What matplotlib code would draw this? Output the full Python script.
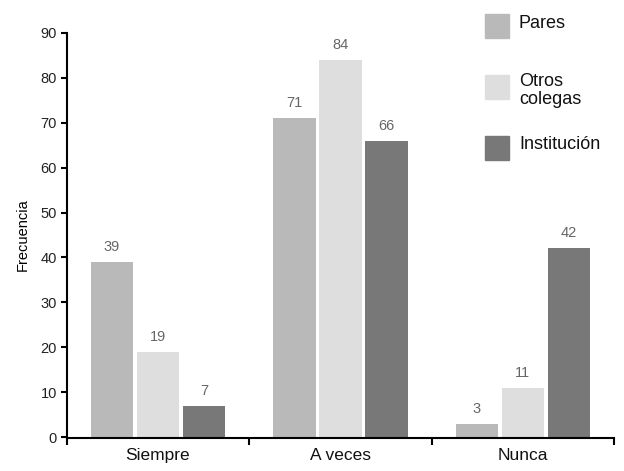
import matplotlib.pyplot as plt
from matplotlib.patches import Rectangle
import numpy as np

plt.rcParams['font.family'] = ['Liberation Sans', 'DejaVu Sans']

# Data
categories = ["Siempre", "A veces", "Nunca"]
series_names = ["Pares", "Otros\ncolegas", "Institución"]
pares = [39, 71, 3]
otros_colegas = [19, 84, 11]
institucion = [7, 66, 42]
y_ticks = [0, 10, 20, 30, 40, 50, 60, 70, 80, 90]

colors = ["#b9b9b9", "#dedede", "#787878"]
values = [pares, otros_colegas, institucion]

fig = plt.figure(figsize=(6.24, 4.71), dpi=100)
ax = fig.add_axes([0.107, 0.072, 0.877, 0.858])

x = np.arange(len(categories))
width = 0.232
step = 0.252
for i, (vals, col) in enumerate(zip(values, colors)):
    pos = x + (i - 1) * step
    ax.bar(pos, vals, width=width, color=col, edgecolor="none", zorder=2)
    for px, v in zip(pos, vals):
        ax.text(px, v + 1.8, str(v), ha="center", va="bottom",
                fontsize=10.5, color="#666666")

ax.set_xlim(-0.5, 2.5)
ax.set_ylim(0, 90)
ax.set_yticks(y_ticks)
ax.tick_params(axis="y", labelsize=10.5, length=4, width=1.5, direction="out",
               pad=3, labelcolor="#222222")

# category labels centred, ticks on group boundaries
ax.set_xticks([-0.5, 0.5, 1.5, 2.5])
ax.set_xticklabels([])
ax.set_xticks(x, minor=True)
ax.set_xticklabels(categories, minor=True)
ax.tick_params(axis="x", which="major", length=5, width=1.5, direction="out")
ax.tick_params(axis="x", which="minor", length=0, pad=7, labelsize=12.5,
               labelcolor="#111111")

for s in ["top", "right"]:
    ax.spines[s].set_visible(False)
for s in ["left", "bottom"]:
    ax.spines[s].set_linewidth(1.5)
ax.spines["bottom"].set_position(("outward", 1))

ax.set_ylabel("Frecuencia", family=["Liberation Sans Narrow", "Liberation Sans"],
              fontsize=10.5, labelpad=8)

# legend drawn as separate boxes with wide spacing (figure pixels from top)
box_top = [14, 75, 136]
text_y = [24, 73, 145]
text_va = ["center", "top", "center"]
H = 471.0
for name, col, bt, ty, va in zip(series_names, colors, box_top, text_y, text_va):
    fig.patches.append(Rectangle((485 / 624, 1 - (bt + 24) / H), 24 / 624, 24 / H,
                                 transform=fig.transFigure, color=col))
    fig.text(519 / 624, 1 - ty / H, name, ha="left", va=va, fontsize=13,
             color="#111111", linespacing=1.05)

fig.savefig("out.png", dpi=100)
